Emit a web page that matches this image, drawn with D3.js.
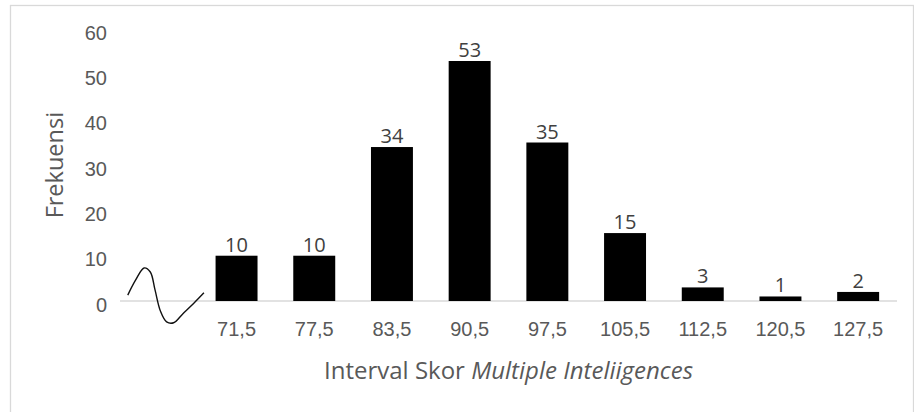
<!DOCTYPE html>
<html>
<head>
<meta charset="utf-8">
<script src="https://cdn.jsdelivr.net/npm/d3@7"></script>
<style>
  html, body { margin: 0; padding: 0; background: #fff; }
  svg { display: block; font-family: "Open Sans", "Noto Sans", sans-serif; }
</style>
</head>
<body>
<svg id="chart" width="914" height="412"></svg>
<script>
// Frequency distribution of Multiple Intelligences interval scores.
// The first (unlabelled) slot holds the axis-break symbol.
const categories = ["", "71,5", "77,5", "83,5", "90,5", "97,5", "105,5", "112,5", "120,5", "127,5"];
const frequencies = [null, 10, 10, 34, 53, 35, 15, 3, 1, 2];
const yTicks = [0, 10, 20, 30, 40, 50, 60];
const yTitle = "Frekuensi";
const xTitlePlain = "Interval Skor ";
const xTitleItalic = "Multiple Inteliigences";

// Axis-break wave: [offset within the slot in band steps, value]
const breakWave = [
  [-0.40, 1.3], [-0.30, 4.6], [-0.19, 7.3], [-0.11, 6.4], [-0.05, 2.5],
  [0.02, -2.2], [0.10, -4.6], [0.19, -4.8], [0.31, -2.8], [0.45, -0.5], [0.58, 1.8]
];

const svg = d3.select("#chart");
const plot = { left: 120, right: 897, top: 29.3, bottom: 301 };

// chart frame
svg.append("rect")
  .attr("x", 10.5).attr("y", 5.5)
  .attr("width", 903).attr("height", 420)
  .attr("fill", "none").attr("stroke", "#d9d9d9").attr("stroke-width", 1.3);

const x = d3.scaleBand()
  .domain(categories)
  .range([plot.left, plot.right])
  .paddingInner(0.46)
  .paddingOuter(0.23);

const y = d3.scaleLinear()
  .domain([0, 60])
  .range([plot.bottom, plot.top]);

const textColor = "#595959";

// y axis labels (no line, no ticks)
const yAxis = svg.append("g")
  .attr("transform", `translate(${plot.left - 13},0)`)
  .call(d3.axisLeft(y).tickValues(yTicks).tickSize(0).tickPadding(0));
yAxis.select(".domain").remove();
yAxis.selectAll("text")
  .attr("fill", textColor)
  .attr("font-size", 20)
  .attr("dy", "0.5em");

// baseline
svg.append("line")
  .attr("x1", plot.left).attr("x2", plot.right)
  .attr("y1", y(0)).attr("y2", y(0))
  .attr("stroke", "#d9d9d9").attr("stroke-width", 1.3);

// x axis labels
const xAxis = svg.append("g")
  .attr("transform", `translate(0,${y(0)})`)
  .call(d3.axisBottom(x).tickSize(0).tickPadding(0));
xAxis.select(".domain").remove();
xAxis.selectAll("text")
  .attr("fill", textColor)
  .attr("font-size", 20)
  .attr("dy", "1.75em");

const data = categories.map((c, i) => ({ c, v: frequencies[i] })).filter(d => d.v !== null);

// bars
svg.append("g").selectAll("rect")
  .data(data)
  .join("rect")
  .attr("x", d => x(d.c))
  .attr("width", x.bandwidth())
  .attr("y", d => y(d.v))
  .attr("height", d => y(0) - y(d.v))
  .attr("fill", "#000");

// value labels
svg.append("g").selectAll("text")
  .data(data)
  .join("text")
  .attr("x", d => x(d.c) + x.bandwidth() / 2)
  .attr("y", d => y(d.v) - 4)
  .attr("text-anchor", "middle")
  .attr("fill", "#404040")
  .attr("font-size", 20)
  .text(d => d.v);

// axis-break wave in the first slot
const c0 = x(categories[0]) + x.bandwidth() / 2;
const step = x.step();
svg.append("path")
  .datum(breakWave)
  .attr("d", d3.line()
    .x(d => c0 + d[0] * step)
    .y(d => y(d[1]))
    .curve(d3.curveCatmullRom))
  .attr("fill", "none")
  .attr("stroke", "#111")
  .attr("stroke-width", 1.4);

// y title
svg.append("text")
  .attr("transform", `translate(63,${(plot.top + plot.bottom) / 2}) rotate(-90)`)
  .attr("text-anchor", "middle")
  .attr("fill", textColor)
  .attr("font-size", 23.5)
  .text(yTitle);

// x title
const xt = svg.append("text")
  .attr("x", (plot.left + plot.right) / 2)
  .attr("y", 379)
  .attr("text-anchor", "middle")
  .attr("fill", textColor)
  .attr("font-size", 24);
xt.append("tspan").text(xTitlePlain);
xt.append("tspan").attr("font-style", "italic").text(xTitleItalic);
</script>
</body>
</html>
